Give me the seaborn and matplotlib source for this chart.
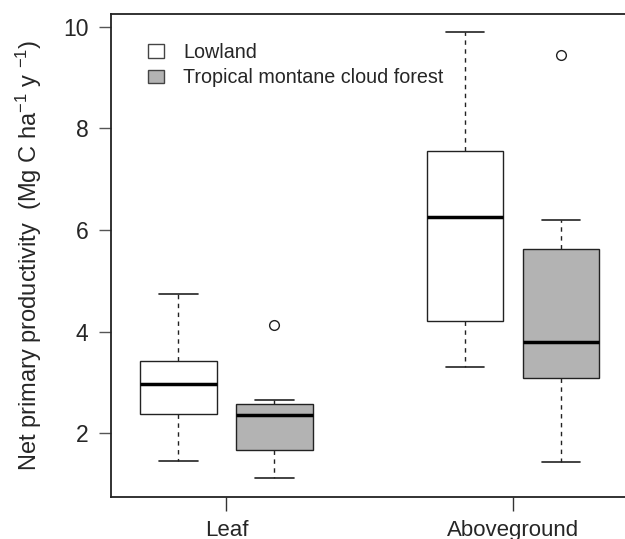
import numpy as np
import pandas as pd
import matplotlib
matplotlib.use("Agg")
import matplotlib.pyplot as plt
from matplotlib.patches import Patch
import seaborn as sns

# ---- data ----
categories = ["Leaf", "Aboveground"]
forest_types = ["Lowland", "Tropical montane cloud forest"]

leaf_lowland = [1.46, 2.10, 2.38, 2.70, 2.97, 3.20, 3.42, 4.10, 4.73]
leaf_tmcf = [1.11, 1.40, 1.66, 2.00, 2.35, 2.50, 2.58, 2.66, 4.12]
above_lowland = [3.30, 3.90, 4.20, 5.20, 6.25, 7.00, 7.55, 8.80, 9.90]
above_tmcf = [1.44, 2.50, 3.09, 3.50, 3.80, 4.80, 5.62, 6.20, 9.44]

y_ticks = [2, 4, 6, 8, 10]
y_label = "Net primary productivity  (Mg C ha$^{-1}$ y $^{-1}$)"

groups = [
    ("Leaf", "Lowland", leaf_lowland),
    ("Leaf", "Tropical montane cloud forest", leaf_tmcf),
    ("Aboveground", "Lowland", above_lowland),
    ("Aboveground", "Tropical montane cloud forest", above_tmcf),
]
rows = []
for cat, ft, vals in groups:
    for v in vals:
        rows.append({"part": cat, "forest": ft, "npp": v})
df = pd.DataFrame(rows)

sns.set_style("white")
plt.rcParams["font.family"] = ["Liberation Sans", "DejaVu Sans"]
plt.rcParams["mathtext.fontset"] = "custom"
plt.rcParams["mathtext.rm"] = "Liberation Sans"
plt.rcParams["mathtext.it"] = "Liberation Sans"

fig = plt.figure(figsize=(6.25, 5.39), dpi=100)
W, H = 625, 539
left_px, right_px, top_px, bottom_px = 110.8, 628.6, 13.5, 496.8
leaf_px, unit_px = 226.4, 286.6
ax = fig.add_axes([left_px / W, 1 - bottom_px / H,
                   (right_px - left_px) / W, (bottom_px - top_px) / H])

palette = {"Lowland": "white", "Tropical montane cloud forest": "#b3b3b3"}
edge = "#222222"
sns.boxplot(
    data=df, x="part", y="npp", hue="forest",
    order=categories, hue_order=forest_types,
    palette=palette, width=0.67, gap=0.2,
    linecolor=edge, linewidth=1.0, legend=False, ax=ax,
    whiskerprops={"linestyle": (0, (3.2, 3.2)), "color": edge, "linewidth": 1.0},
    capprops={"color": edge, "linewidth": 1.2},
    medianprops={"color": "black", "linewidth": 2.5, "solid_capstyle": "butt"},
    flierprops={"marker": "o", "markerfacecolor": "none",
                "markeredgecolor": edge, "markersize": 7, "markeredgewidth": 1.0},
)

ax.set_xlim(-(leaf_px - left_px) / unit_px, (right_px - leaf_px) / unit_px)
ax.set_ylim(0.748, 10.26)
ax.set_yticks(y_ticks)
ax.set_yticklabels([str(t) for t in y_ticks])
ax.set_xlabel("")
ax.set_ylabel(y_label, fontsize=17, labelpad=14)
ax.tick_params(axis="y", direction="out", length=9, width=1.0, color="#555555",
               labelsize=16.5, pad=7, left=True)
ax.tick_params(axis="x", direction="out", length=10, width=1.0, color="#333333",
               labelsize=16, pad=7, bottom=True)

for side in ["left", "bottom", "top"]:
    ax.spines[side].set_visible(True)
    ax.spines[side].set_color("#222222")
    ax.spines[side].set_linewidth(1.3)
ax.spines["right"].set_visible(False)
ax.grid(False)

handles = [Patch(facecolor=palette[f], edgecolor="#444444", linewidth=1.0, label=f)
           for f in forest_types]
fs = 14.2
leg = ax.legend(handles=handles, loc="upper left", frameon=False, fontsize=fs,
                handlelength=0.82, handleheight=0.67, handletextpad=0.95,
                labelspacing=0.32, borderpad=0, borderaxespad=0,
                bbox_to_anchor=(148 / W, 1 - 43 / H),
                bbox_transform=fig.transFigure)

fig.savefig("out.png", dpi=100)
